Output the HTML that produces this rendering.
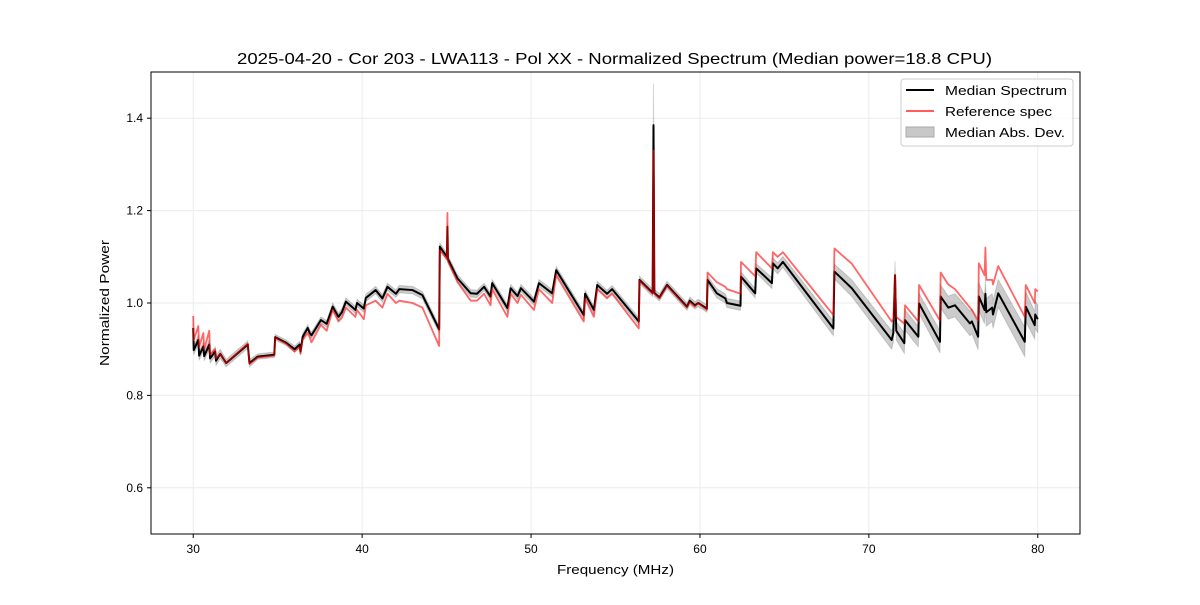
<!DOCTYPE html>
<html><head><meta charset="utf-8"><style>
body{margin:0;background:#fff;font-family:"Liberation Sans",sans-serif;}
svg text{font-family:"Liberation Sans",sans-serif;}
</style></head><body>
<svg id="chart" width="1200" height="600" viewBox="0 0 1200 600" xmlns="http://www.w3.org/2000/svg">
<rect x="0" y="0" width="1200" height="600" fill="#fff"/>
<text x="237" y="64" font-size="16" textLength="755" lengthAdjust="spacingAndGlyphs">2025-04-20 - Cor 203 - LWA113 - Pol XX - Normalized Spectrum (Median power=18.8 CPU)</text>
<g id="grid"></g>
<g id="series"></g>
<rect x="151" y="72" width="929" height="462" fill="none" stroke="#000" stroke-width="1"/>
<g id="axes"></g>
<text x="557" y="574" font-size="13" textLength="117" lengthAdjust="spacingAndGlyphs">Frequency (MHz)</text>
<text transform="translate(109,366) rotate(-90)" font-size="13" textLength="126" lengthAdjust="spacingAndGlyphs">Normalized Power</text>
<g>
<rect x="901" y="79" width="172" height="67" rx="3" fill="#fff" fill-opacity="0.8" stroke="#ccc"/>
<line x1="906" y1="90" x2="934" y2="90" stroke="#000" stroke-width="2"/>
<text x="945" y="95" font-size="13" textLength="122" lengthAdjust="spacingAndGlyphs">Median Spectrum</text>
<line x1="906" y1="111" x2="934" y2="111" stroke="#ff5c5c" stroke-width="2"/>
<text x="945" y="116" font-size="13" textLength="107" lengthAdjust="spacingAndGlyphs">Reference spec</text>
<rect x="906" y="127" width="28" height="10" fill="#c8c8c8" stroke="#aaa"/>
<text x="945" y="137" font-size="13" textLength="120" lengthAdjust="spacingAndGlyphs">Median Abs. Dev.</text>
</g>
</svg>
<script>
const freqs=[30.00,30.03,30.3,30.35,30.6,30.65,30.95,31.0,31.3,31.35,31.6,31.95,33.23,33.33,33.82,34.8,34.85,35.5,36.0,36.3,36.35,36.48,36.78,36.9,37.0,37.56,37.9,38.26,38.6,38.8,39.04,39.6,39.7,40.1,40.22,40.8,41.2,41.5,42.0,42.2,42.98,43.57,44.56,44.6,45.02,45.05,45.08,45.65,46.43,46.8,47.22,47.6,47.7,48.6,48.79,49.2,49.4,50.17,50.47,51.25,51.49,53.12,53.2,53.72,53.92,54.5,54.8,56.38,56.42,57.2,57.25,57.3,57.6,58.05,59.23,59.4,59.7,59.9,60.41,60.45,61.0,61.5,61.6,62.4,62.43,63.27,63.33,64.26,64.32,64.6,64.91,67.9,67.96,68.99,71.35,71.45,71.55,71.62,72.1,72.14,72.93,72.97,74.21,74.25,74.7,75.1,75.98,76.1,76.47,76.51,76.85,76.9,76.95,77.3,77.35,77.66,79.23,79.29,79.82,79.85,80.0];
const medianVals=[0.946,0.898,0.92,0.886,0.906,0.885,0.91,0.88,0.895,0.875,0.89,0.87,0.91,0.87,0.884,0.888,0.926,0.914,0.9,0.91,0.895,0.927,0.946,0.935,0.93,0.963,0.955,0.992,0.97,0.98,1.003,0.985,1.0,0.988,1.011,1.028,1.01,1.035,1.02,1.03,1.028,1.017,0.943,1.122,1.10,1.165,1.095,1.053,1.021,1.02,1.035,1.014,1.043,0.989,1.032,1.015,1.032,1.003,1.043,1.021,1.071,0.974,1.02,0.985,1.039,1.02,1.03,0.96,1.05,1.022,1.385,1.022,1.012,1.039,0.992,1.005,0.995,1.0,0.988,1.05,1.021,1.01,1.0,0.994,1.057,1.021,1.075,1.043,1.086,1.075,1.089,0.945,1.068,1.032,0.92,0.935,1.06,0.94,0.913,0.963,0.927,0.999,0.916,1.014,0.99,0.995,0.956,0.96,0.927,1.014,0.985,1.02,0.98,0.99,0.975,1.021,0.916,0.992,0.952,0.975,0.965];
const refVals=[0.972,0.92,0.95,0.905,0.935,0.90,0.94,0.888,0.9,0.88,0.89,0.87,0.912,0.868,0.882,0.886,0.925,0.912,0.895,0.905,0.89,0.92,0.935,0.925,0.915,0.953,0.94,0.985,0.96,0.968,0.99,0.97,0.985,0.965,0.995,1.005,0.99,1.02,1.0,1.005,1.0,0.99,0.907,1.115,1.095,1.195,1.09,1.045,1.005,1.005,1.02,0.995,1.03,0.97,1.02,1.0,1.018,0.985,1.03,1.0,1.06,0.96,1.01,0.97,1.03,1.01,1.02,0.945,1.048,1.02,1.33,1.02,1.01,1.037,0.99,1.002,0.992,1.0,0.985,1.066,1.045,1.035,1.03,1.02,1.089,1.058,1.11,1.075,1.11,1.1,1.11,0.974,1.118,1.085,0.96,0.965,1.06,0.97,0.955,0.995,0.96,1.039,0.962,1.066,1.04,1.03,0.99,0.985,0.962,1.086,1.06,1.12,1.05,1.05,1.04,1.08,0.97,1.039,1.0,1.03,1.025];
const madVals=[0.01,0.01,0.01,0.01,0.01,0.01,0.01,0.01,0.01,0.01,0.01,0.008,0.008,0.008,0.006,0.006,0.006,0.006,0.007,0.007,0.007,0.007,0.007,0.007,0.007,0.007,0.007,0.008,0.008,0.008,0.008,0.008,0.008,0.008,0.008,0.008,0.008,0.008,0.008,0.008,0.008,0.008,0.008,0.008,0.008,0.008,0.008,0.008,0.008,0.008,0.008,0.008,0.008,0.008,0.008,0.008,0.008,0.008,0.008,0.008,0.008,0.008,0.008,0.008,0.008,0.008,0.008,0.008,0.008,0.008,0.09,0.008,0.008,0.008,0.008,0.008,0.008,0.008,0.008,0.008,0.01,0.01,0.01,0.01,0.01,0.01,0.01,0.012,0.012,0.012,0.012,0.016,0.016,0.018,0.02,0.02,0.03,0.02,0.022,0.022,0.022,0.022,0.024,0.025,0.025,0.025,0.027,0.027,0.028,0.03,0.03,0.03,0.03,0.03,0.03,0.03,0.032,0.032,0.03,0.03,0.03];
const xTicks=[30,40,50,60,70,80];
const yTicks=[0.6,0.8,1.0,1.2,1.4];
const yTickLabels=["0.6","0.8","1.0","1.2","1.4"];

const NS="http://www.w3.org/2000/svg";
const X0=151,X1=1080,Y0=72,Y1=534,XMIN=27.5,XMAX=82.5,YMIN=0.5,YMAX=1.5;
function sx(f){return X0+(f-XMIN)/(XMAX-XMIN)*(X1-X0);}
function sy(v){return Y1-(v-YMIN)/(YMAX-YMIN)*(Y1-Y0);}
function mk(tag,attrs,parent){const e=document.createElementNS(NS,tag);for(const k in attrs)e.setAttribute(k,attrs[k]);parent.appendChild(e);return e;}
const grid=document.getElementById('grid'),axes=document.getElementById('axes'),series=document.getElementById('series');
xTicks.forEach(t=>{
  const g=mk('line',{x1:sx(t),x2:sx(t),y1:Y0,y2:Y1,stroke:'#ebebeb','stroke-width':1},grid);
  
  
  const tk=mk('line',{x1:sx(t),x2:sx(t),y1:Y1,y2:Y1+4,stroke:'#000'},axes);
  
  
  const tx=mk('text',{x:sx(t),y:Y1+19,'font-size':12,'text-anchor':'middle'},axes);
  tx.textContent=String(t);
  
  
});
yTicks.forEach((t,i)=>{
  const g=mk('line',{x1:X0,x2:X1,y1:sy(t),y2:sy(t),stroke:'#ebebeb','stroke-width':1},grid);
  
  
  const tk=mk('line',{x1:X0-4,x2:X0,y1:sy(t),y2:sy(t),stroke:'#000'},axes);
  
  
  const tx=mk('text',{x:X0-8,y:sy(t)+4,'font-size':12,'text-anchor':'end'},axes);
  tx.textContent=yTickLabels[i];
  
  
});
let up=[],dn=[];
freqs.forEach((f,i)=>{up.push(sx(f)+','+sy(medianVals[i]+madVals[i]));dn.unshift(sx(f)+','+sy(medianVals[i]-madVals[i]));});
const band=mk('polygon',{points:up.concat(dn).join(' '),fill:'#000','fill-opacity':0.2,stroke:'#000','stroke-opacity':0.15,'stroke-width':1},series);


const medPts=freqs.map((f,i)=>sx(f)+','+sy(medianVals[i])).join(' ');
const med=mk('polyline',{points:medPts,fill:'none',stroke:'#000','stroke-width':2,'stroke-linejoin':'round'},series);


const refPts=freqs.map((f,i)=>sx(f)+','+sy(refVals[i])).join(' ');
const ref=mk('polyline',{points:refPts,fill:'none',stroke:'#ff0000','stroke-opacity':0.6,'stroke-width':1.8,'stroke-linejoin':'round'},series);


</script>
</body></html>
